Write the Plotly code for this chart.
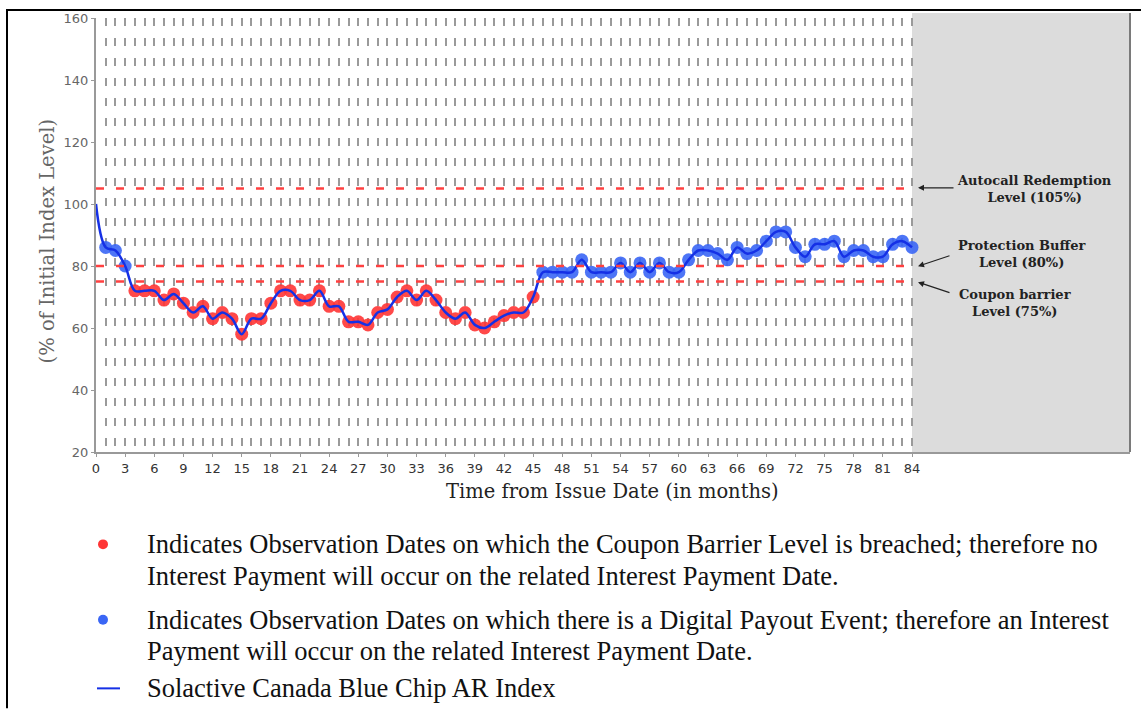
import plotly.graph_objects as go

# ---------------- data ----------------
months = list(range(0, 85))
index_level = [100, 86, 85, 80, 72, 72, 72, 69, 71, 68, 65, 67, 63, 65, 63, 58, 63, 63, 68, 72,
               72, 69, 69, 72, 67, 67, 62, 62, 61, 65, 66, 70, 72, 69, 72, 69, 65, 63, 65, 61,
               60, 62, 64, 65, 65, 70, 78, 78, 78, 78, 82, 78, 78, 78, 81, 78, 81, 78, 81, 78,
               78, 82, 85, 85, 84, 82, 86, 84, 85, 88, 91, 91, 86, 83, 87, 87, 88, 83, 85, 85,
               83, 83, 87, 88, 86]
coupon_barrier = 75
level_values = [105, 80, 75]
level_labels = ["Autocall Redemption<br>Level (105%)",
                "Protection Buffer<br>Level (80%)",
                "Coupon barrier<br>Level (75%)"]
x_ticks = list(range(0, 85, 3))
y_ticks = list(range(20, 161, 20))
legend_texts = [
    ["Indicates Observation Dates on which the Coupon Barrier Level is breached; therefore no",
     "Interest Payment will occur on the related Interest Payment Date."],
    ["Indicates Observation Dates on which there is a Digital Payout Event; therefore an Interest",
     "Payment will occur on the related Interest Payment Date."],
    ["Solactive Canada Blue Chip AR Index"],
]

# ---------------- layout geometry ----------------
W, H = 1141, 710
L, R, T, B = 96, 1130, 15, 452
X_MAX = 84 * (R - L) / (816.0)


def px(x):
    return (x - L) / (R - L)


def py(y):
    return (B - y) / (B - T)


obs_m = months[1:]
obs_v = index_level[1:]
red_x = [m for m, v in zip(obs_m, obs_v) if v < coupon_barrier]
red_y = [v for v in obs_v if v < coupon_barrier]
blue_x = [m for m, v in zip(obs_m, obs_v) if v >= coupon_barrier]
blue_y = [v for v in obs_v if v >= coupon_barrier]

RED = "#ff3535"
BLUE = "#3a66f5"
LINE_BLUE = "#1530e6"

fig = go.Figure()
fig.add_trace(go.Scatter(x=red_x, y=red_y, mode="markers",
                         marker=dict(size=13, color=RED, opacity=0.9, line=dict(width=0)),
                         showlegend=False, hoverinfo="skip"))
fig.add_trace(go.Scatter(x=blue_x, y=blue_y, mode="markers",
                         marker=dict(size=13, color=BLUE, opacity=0.9, line=dict(width=0)),
                         showlegend=False, hoverinfo="skip"))
fig.add_trace(go.Scatter(x=months, y=index_level, mode="lines",
                         line=dict(color=LINE_BLUE, width=2.5, shape="spline", smoothing=1.0),
                         showlegend=False, hoverinfo="skip"))

shapes = []
# grey region beyond maturity
shapes.append(dict(type="rect", xref="x", yref="paper", x0=84, x1=X_MAX, y0=0, y1=py(10),
                   fillcolor="#dcdcdc", line=dict(width=0), layer="below"))
shapes.append(dict(type="line", xref="paper", yref="paper", x0=1, x1=1, y0=0, y1=py(10),
                   line=dict(color="#7a7a7a", width=2)))
# level lines
for lv in level_values:
    shapes.append(dict(type="line", xref="x", yref="y", x0=0, x1=84, y0=lv, y1=lv,
                       line=dict(color="#ff4040", width=2.5, dash="8px,12px"), layer="above"))
# outer frame
shapes.append(dict(type="line", xref="paper", yref="paper", x0=px(6), x1=px(W), y0=py(7), y1=py(7),
                   line=dict(color="black", width=2)))
shapes.append(dict(type="line", xref="paper", yref="paper", x0=px(7), x1=px(7), y0=py(7), y1=py(H),
                   line=dict(color="black", width=2)))
# legend symbols
for cy, col in [(545, RED), (621, BLUE)]:
    shapes.append(dict(type="circle", xref="paper", yref="paper",
                       x0=px(98), x1=px(108), y0=py(cy - 5), y1=py(cy + 5),
                       fillcolor=col, line=dict(width=0)))
shapes.append(dict(type="line", xref="paper", yref="paper", x0=px(97), x1=px(120),
                   y0=py(690), y1=py(690), line=dict(color=LINE_BLUE, width=2)))

annotations = []
# level arrows
arrow_specs = [((918, 186), (955, 186)), ((918, 265), (951, 254)), ((918, 281), (951, 292))]
for lv, ((hx, hy), (tx, ty)) in zip(level_values, arrow_specs):
    annotations.append(dict(xref="paper", yref="paper", x=px(hx), y=py(hy), ax=tx - hx, ay=ty - hy,
                            text="", showarrow=True, arrowhead=2, arrowsize=1, arrowwidth=1.2,
                            arrowcolor="#222"))
text_pos = [(1034, 187), (1021, 253), (1015, 302)]
for lab, (cx, cy) in zip(level_labels, text_pos):
    annotations.append(dict(xref="paper", yref="paper", x=px(cx), y=py(cy), text="<b>" + lab + "</b>",
                            showarrow=False, xanchor="center", yanchor="middle", align="center",
                            font=dict(family="DejaVu Serif", size=13, color="#222")))
# axis titles
annotations.append(dict(xref="paper", yref="paper", x=px(612), y=py(492),
                        text="Time from Issue Date (in months)", showarrow=False,
                        xanchor="center", yanchor="middle",
                        font=dict(family="DejaVu Serif", size=19.5, color="#222")))
annotations.append(dict(xref="paper", yref="paper", x=px(47), y=py(240),
                        text="(% of Initial Index Level)", showarrow=False, textangle=-90,
                        xanchor="center", yanchor="middle",
                        font=dict(family="DejaVu Serif", size=19.5, color="#666")))
# legend texts
line_ys = [[545, 577], [621, 652], [690]]
for lines, ys in zip(legend_texts, line_ys):
    for t, yy in zip(lines, ys):
        annotations.append(dict(xref="paper", yref="paper", x=px(145), y=py(yy), text=t,
                                showarrow=False, xanchor="left", yanchor="middle",
                                font=dict(family="Liberation Serif", size=26.5, color="#111")))

fig.update_layout(
    width=W, height=H,
    margin=dict(l=L, r=W - R, t=T, b=H - B, pad=0),
    paper_bgcolor="white", plot_bgcolor="white",
    shapes=shapes, annotations=annotations,
    xaxis=dict(range=[0, X_MAX], tickmode="array", tickvals=x_ticks,
               ticktext=[str(v) for v in x_ticks],
               showgrid=False, zeroline=False, showline=True, linecolor="#999", linewidth=2,
               ticks="outside", ticklen=3, tickcolor="#999",
               tickfont=dict(family="DejaVu Sans", size=13, color="#333"),
               minor=dict(tickmode="array", tickvals=list(range(1, 85)), showgrid=True,
                          gridcolor="#9a9a9a", gridwidth=2, griddash="8px,12px", ticks="")),
    yaxis=dict(range=[20, 160], tickmode="array", tickvals=y_ticks,
               showgrid=False, zeroline=False, showline=True, linecolor="#999", linewidth=2,
               ticks="outside", ticklen=3, tickcolor="#999",
               tickfont=dict(family="DejaVu Sans", size=13, color="#666")),
)

fig.write_html("out.html", config={"displayModeBar": False},
               post_script="document.body.style.margin='0px';document.body.style.overflow='hidden';")
